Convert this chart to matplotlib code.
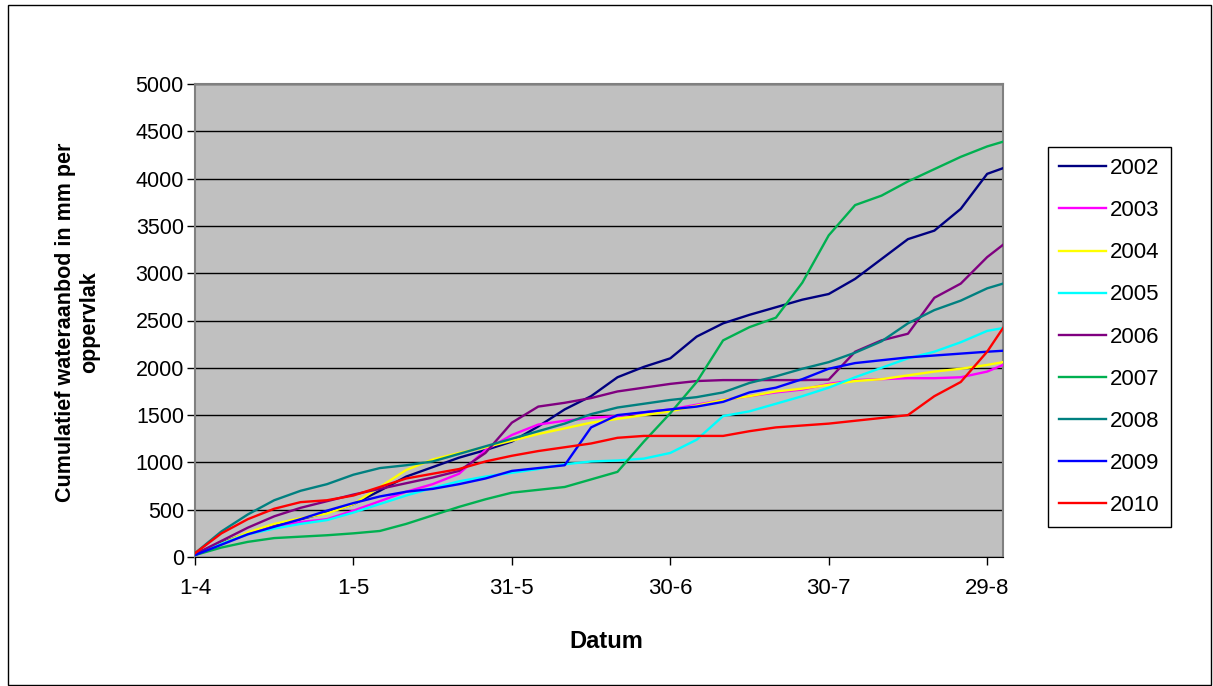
import matplotlib
matplotlib.use("Agg")
import matplotlib.pyplot as plt
from matplotlib.patches import Rectangle

plt.rcParams["font.family"] = ["Liberation Sans", "DejaVu Sans"]

# dagen vanaf 1 april
DAGEN = [0, 5, 10, 15, 20, 25, 30, 35, 40, 45, 50, 55, 60, 65, 70, 75,
         80, 85, 90, 95, 100, 105, 110, 115, 120, 125, 130, 135, 140, 145,
         150, 153]

TICK_DAGEN = [0, 30, 60, 90, 120, 150]
TICK_LABELS = ["1-4", "1-5", "31-5", "30-6", "30-7", "29-8"]

JAREN = ["2002", "2003", "2004", "2005", "2006", "2007", "2008", "2009", "2010"]
KLEUREN = ["#000080", "#FF00FF", "#FFFF00", "#00FFFF", "#800080",
           "#00B050", "#008080", "#0000FF", "#FF0000"]

# cumulatief wateraanbod (mm) per jaar
aanbod_2002 = [30, 150, 250, 330, 400, 470, 560, 700, 850, 950, 1050, 1130,
               1220, 1380, 1560, 1700, 1900, 2010, 2100, 2330, 2470, 2560,
               2640, 2720, 2780, 2940, 3150, 3360, 3450, 3680, 4050, 4110]
aanbod_2003 = [20, 140, 250, 320, 370, 400, 490, 590, 690, 770, 880, 1130,
               1290, 1400, 1440, 1470, 1490, 1530, 1560, 1610, 1660, 1700,
               1740, 1770, 1830, 1870, 1880, 1890, 1890, 1900, 1960, 2030]
aanbod_2004 = [30, 140, 260, 350, 410, 460, 560, 740, 920, 1030, 1100, 1160,
               1230, 1300, 1360, 1420, 1460, 1500, 1540, 1600, 1660, 1700,
               1750, 1780, 1820, 1860, 1880, 1920, 1960, 1990, 2030, 2060]
aanbod_2005 = [20, 140, 240, 300, 350, 390, 470, 560, 650, 730, 800, 850,
               890, 930, 980, 1010, 1020, 1040, 1100, 1240, 1490, 1540,
               1620, 1700, 1790, 1900, 2000, 2100, 2170, 2270, 2390, 2420]
aanbod_2006 = [30, 170, 310, 430, 520, 590, 660, 720, 780, 840, 910, 1100,
               1420, 1590, 1630, 1680, 1750, 1790, 1830, 1860, 1870, 1870,
               1870, 1870, 1875, 2170, 2290, 2360, 2740, 2890, 3170, 3300]
aanbod_2007 = [20, 100, 160, 200, 215, 230, 250, 275, 350, 440, 530, 610,
               680, 710, 740, 820, 900, 1220, 1520, 1850, 2290, 2430,
               2530, 2900, 3400, 3720, 3820, 3970, 4100, 4230, 4340, 4390]
aanbod_2008 = [40, 270, 450, 600, 700, 770, 870, 940, 970, 1010, 1090, 1170,
               1250, 1330, 1410, 1510, 1580, 1620, 1660, 1690, 1740, 1840,
               1910, 1990, 2060, 2160, 2280, 2470, 2610, 2710, 2840, 2890]
aanbod_2009 = [20, 130, 240, 320, 400, 490, 570, 640, 690, 720, 770, 830,
               910, 940, 970, 1370, 1500, 1530, 1560, 1590, 1640, 1740,
               1790, 1880, 1990, 2050, 2080, 2110, 2130, 2150, 2170, 2180]
aanbod_2010 = [40, 250, 400, 510, 580, 600, 650, 740, 830, 880, 930, 1010,
               1070, 1120, 1160, 1200, 1260, 1280, 1280, 1280, 1280, 1330,
               1370, 1390, 1410, 1440, 1470, 1500, 1700, 1850, 2170, 2420]

REEKSEN = [aanbod_2002, aanbod_2003, aanbod_2004, aanbod_2005, aanbod_2006,
           aanbod_2007, aanbod_2008, aanbod_2009, aanbod_2010]

W, H = 1213, 686
fig = plt.figure(figsize=(W / 100, H / 100), dpi=100)
fig.patch.set_facecolor("white")

ax = fig.add_axes([195 / W, 1 - 557 / H, 808 / W, 473 / H])
ax.set_facecolor("#C0C0C0")

for jaar, waarden, kleur in zip(JAREN, REEKSEN, KLEUREN):
    ax.plot(DAGEN, waarden, color=kleur, lw=1.7, label=jaar, zorder=3)

ax.set_xlim(0, 153)
ax.set_ylim(0, 5000)
ax.set_yticks(range(0, 5001, 500))
ax.set_xticks(TICK_DAGEN)
ax.set_xticklabels(TICK_LABELS)
ax.tick_params(axis="y", labelsize=15.5, pad=2)
ax.tick_params(axis="x", labelsize=16, pad=9)
ax.tick_params(axis="both", direction="out", length=6, width=1, color="black")
ax.yaxis.grid(True, color="black", lw=1)
ax.set_axisbelow(True)

for side in ["top", "right", "left"]:
    ax.spines[side].set_color("#808080")
    ax.spines[side].set_linewidth(1.5)
ax.spines["bottom"].set_color("black")

fig.text(78 / W, 1 - 322 / H, "Cumulatief wateraanbod in mm per\noppervlak",
         rotation=90, ha="center", va="center", multialignment="center",
         fontsize=15.5, fontweight="bold", linespacing=1.2)
fig.text(606 / W, 1 - 641 / H, "Datum", ha="center", va="center",
         fontsize=17, fontweight="bold")

leg = ax.legend(loc="upper left", bbox_to_anchor=(1048 / W, 1 - 147 / H),
                bbox_transform=fig.transFigure, borderaxespad=0,
                frameon=True, fancybox=False, edgecolor="black", framealpha=1,
                fontsize=16, handlelength=2.1, handletextpad=0.2,
                borderpad=0.5, labelspacing=0.95)
leg.get_frame().set_linewidth(1)

fig.add_artist(Rectangle((8 / W, 1 / H), 1203 / W, 680 / H, transform=fig.transFigure,
                         fill=False, edgecolor="black", lw=1))

fig.savefig("out.png", dpi=100, facecolor="white")
